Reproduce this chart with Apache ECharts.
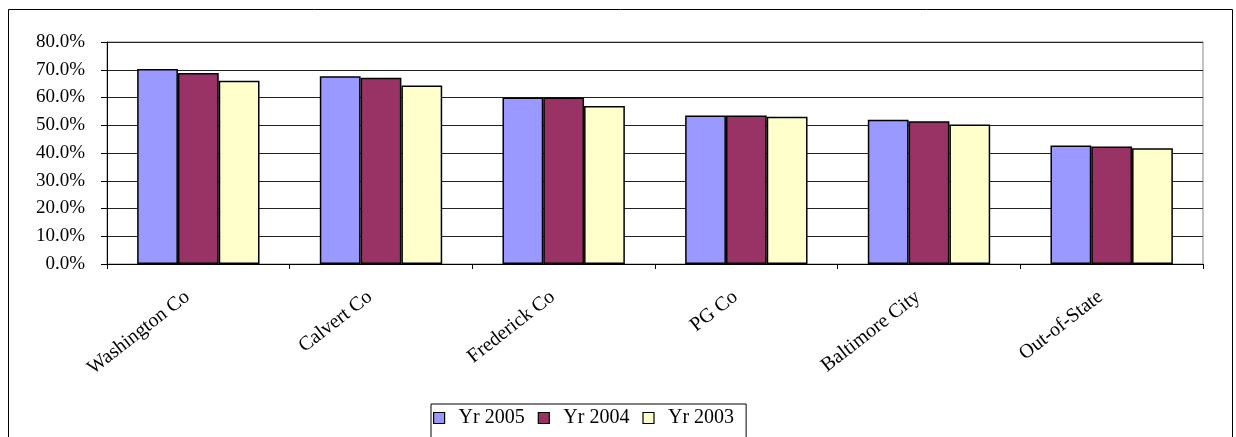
<!DOCTYPE html>
<html>
<head>
<meta charset="utf-8">
<script src="https://cdn.jsdelivr.net/npm/echarts@6/dist/echarts.min.js"></script>
<style>
html,body{margin:0;padding:0;background:#fff;}
#c{width:1236px;height:437px;}
</style>
</head>
<body>
<div id="c"></div>
<script>
const categories = ['Washington Co', 'Calvert Co', 'Frederick Co', 'PG Co', 'Baltimore City', 'Out-of-State'];
const seriesNames = ['Yr 2005', 'Yr 2004', 'Yr 2003'];
const yr2005 = [0.703, 0.677, 0.600, 0.535, 0.520, 0.427];
const yr2004 = [0.688, 0.671, 0.600, 0.535, 0.514, 0.423];
const yr2003 = [0.660, 0.643, 0.569, 0.531, 0.503, 0.417];
const yTicks = [0, 0.1, 0.2, 0.3, 0.4, 0.5, 0.6, 0.7, 0.8];

const colors = ['#9999FF', '#993366', '#FFFFCC'];
const font = 'Liberation Serif';
const chart = echarts.init(document.getElementById('c'));
const values = [yr2005, yr2004, yr2003];

chart.setOption({
  animation: false,
  backgroundColor: '#fff',
  textStyle: { fontFamily: font, color: '#000' },
  graphic: [{
    type: 'rect', silent: true, z: -1,
    shape: { x: 8.5, y: 9.5, width: 1224, height: 440 },
    style: { fill: 'none', stroke: '#000', lineWidth: 1 }
  }],
  grid: { left: 107, right: 33, top: 42, bottom: 173, show: true, borderColor: '#888', borderWidth: 1 },
  legend: {
    top: 404, left: 431,
    data: seriesNames,
    icon: 'rect',
    itemWidth: 11, itemHeight: 11, itemGap: 13,
    borderColor: '#000', borderWidth: 1,
    padding: [4, 12, 10, 2],
    textStyle: { fontFamily: font, fontSize: 20, color: '#000', padding: [0, 0, 0, 9] },
    itemStyle: { borderColor: '#000', borderWidth: 1.2 }
  },
  xAxis: {
    type: 'category',
    data: categories,
    axisLine: { lineStyle: { color: '#000', width: 1 } },
    axisTick: { show: true, length: 5, lineStyle: { color: '#000' } },
    axisLabel: { rotate: 38, fontFamily: font, fontSize: 20, color: '#000', margin: 22, interval: 0,
      padding: [0, 14, 0, 0] }
  },
  yAxis: {
    type: 'value',
    min: yTicks[0], max: yTicks[yTicks.length - 1], interval: 0.1,
    axisLine: { show: true, lineStyle: { color: '#000', width: 1 } },
    axisTick: { show: true, length: 6, inside: false, lineStyle: { color: '#000' } },
    splitLine: { show: true, lineStyle: { color: '#222', width: 1 } },
    axisLabel: { fontFamily: font, fontSize: 19, color: '#000', margin: 22,
      formatter: v => (v * 100).toFixed(1) + '%' }
  },
  series: seriesNames.map((n, i) => ({
    name: n, type: 'bar', data: values[i],
    barGap: '0%', barCategoryGap: '33%',
    itemStyle: { color: colors[i], borderColor: '#000', borderWidth: 1.5 }
  }))
});
</script>
</body>
</html>
